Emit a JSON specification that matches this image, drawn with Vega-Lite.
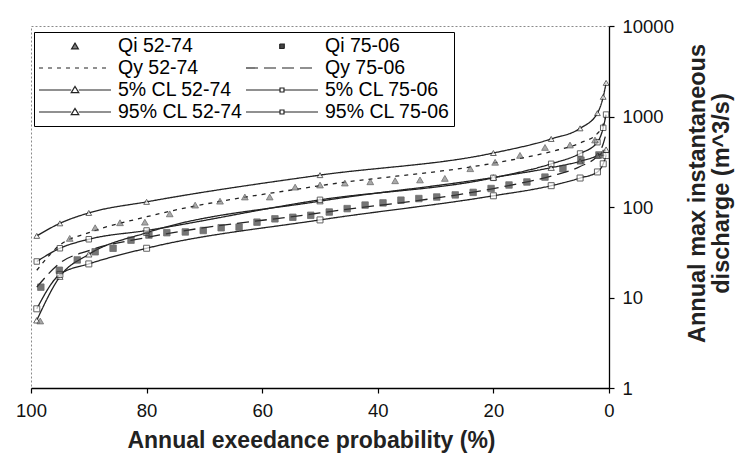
{
  "$schema": "https://vega.github.io/schema/vega-lite/v6.json",
  "width": 578,
  "height": 362,
  "autosize": {"type": "none"},
  "padding": {"left": 31, "top": 26, "right": 127, "bottom": 75},
  "background": "white",
  "config": {
    "font": "Liberation Sans",
    "view": {"stroke": "#8a8a8a", "strokeDash": [2, 2], "strokeWidth": 1}
  },
  "datasets": {
    "curves": [
      {"series": "95% CL 52-74", "p": 99, "q": 48}, {"series": "95% CL 52-74", "p": 95, "q": 66}, {"series": "95% CL 52-74", "p": 90, "q": 86}, {"series": "95% CL 52-74", "p": 80, "q": 114}, {"series": "95% CL 52-74", "p": 50, "q": 225}, {"series": "95% CL 52-74", "p": 20, "q": 395}, {"series": "95% CL 52-74", "p": 10, "q": 565}, {"series": "95% CL 52-74", "p": 5, "q": 740}, {"series": "95% CL 52-74", "p": 2, "q": 1090}, {"series": "95% CL 52-74", "p": 1, "q": 1650}, {"series": "95% CL 52-74", "p": 0.5, "q": 2350},
      {"series": "5% CL 52-74", "p": 99, "q": 5.6}, {"series": "5% CL 52-74", "p": 95, "q": 17}, {"series": "5% CL 52-74", "p": 90, "q": 30}, {"series": "5% CL 52-74", "p": 80, "q": 52}, {"series": "5% CL 52-74", "p": 50, "q": 116}, {"series": "5% CL 52-74", "p": 20, "q": 212}, {"series": "5% CL 52-74", "p": 10, "q": 272}, {"series": "5% CL 52-74", "p": 5, "q": 320}, {"series": "5% CL 52-74", "p": 2, "q": 370}, {"series": "5% CL 52-74", "p": 1, "q": 400}, {"series": "5% CL 52-74", "p": 0.5, "q": 430},
      {"series": "95% CL 75-06", "p": 99, "q": 25}, {"series": "95% CL 75-06", "p": 95, "q": 35}, {"series": "95% CL 75-06", "p": 90, "q": 44}, {"series": "95% CL 75-06", "p": 80, "q": 55}, {"series": "95% CL 75-06", "p": 50, "q": 120}, {"series": "95% CL 75-06", "p": 20, "q": 210}, {"series": "95% CL 75-06", "p": 10, "q": 300}, {"series": "95% CL 75-06", "p": 5, "q": 390}, {"series": "95% CL 75-06", "p": 2, "q": 520}, {"series": "95% CL 75-06", "p": 1, "q": 750}, {"series": "95% CL 75-06", "p": 0.5, "q": 1050},
      {"series": "5% CL 75-06", "p": 99, "q": 7.5}, {"series": "5% CL 75-06", "p": 95, "q": 18}, {"series": "5% CL 75-06", "p": 90, "q": 23.5}, {"series": "5% CL 75-06", "p": 80, "q": 35}, {"series": "5% CL 75-06", "p": 50, "q": 72}, {"series": "5% CL 75-06", "p": 20, "q": 133}, {"series": "5% CL 75-06", "p": 10, "q": 172}, {"series": "5% CL 75-06", "p": 5, "q": 209}, {"series": "5% CL 75-06", "p": 2, "q": 244}, {"series": "5% CL 75-06", "p": 1, "q": 300}, {"series": "5% CL 75-06", "p": 0.5, "q": 370},
      {"series": "Qy 52-74", "p": 99, "q": 20}, {"series": "Qy 52-74", "p": 95, "q": 38}, {"series": "Qy 52-74", "p": 90, "q": 52}, {"series": "Qy 52-74", "p": 80, "q": 78}, {"series": "Qy 52-74", "p": 50, "q": 172}, {"series": "Qy 52-74", "p": 20, "q": 305}, {"series": "Qy 52-74", "p": 10, "q": 410}, {"series": "Qy 52-74", "p": 5, "q": 510}, {"series": "Qy 52-74", "p": 2, "q": 650}, {"series": "Qy 52-74", "p": 1, "q": 820}, {"series": "Qy 52-74", "p": 0.5, "q": 1080},
      {"series": "Qy 75-06", "p": 99, "q": 13}, {"series": "Qy 75-06", "p": 95, "q": 24}, {"series": "Qy 75-06", "p": 90, "q": 33}, {"series": "Qy 75-06", "p": 80, "q": 46}, {"series": "Qy 75-06", "p": 50, "q": 86}, {"series": "Qy 75-06", "p": 20, "q": 160}, {"series": "Qy 75-06", "p": 10, "q": 220}, {"series": "Qy 75-06", "p": 5, "q": 280}, {"series": "Qy 75-06", "p": 2, "q": 370}, {"series": "Qy 75-06", "p": 1, "q": 500}, {"series": "Qy 75-06", "p": 0.5, "q": 650}
    ],
    "obs": [
      {"series": "Qi 52-74", "p": 98.4, "q": 5.5}, {"series": "Qi 52-74", "p": 93.3, "q": 45}, {"series": "Qi 52-74", "p": 88.9, "q": 59}, {"series": "Qi 52-74", "p": 84.6, "q": 67}, {"series": "Qi 52-74", "p": 80.3, "q": 68}, {"series": "Qi 52-74", "p": 76.0, "q": 84}, {"series": "Qi 52-74", "p": 71.6, "q": 105}, {"series": "Qi 52-74", "p": 67.3, "q": 116}, {"series": "Qi 52-74", "p": 63.0, "q": 129}, {"series": "Qi 52-74", "p": 58.7, "q": 129}, {"series": "Qi 52-74", "p": 54.3, "q": 166}, {"series": "Qi 52-74", "p": 50.0, "q": 175}, {"series": "Qi 52-74", "p": 45.7, "q": 184}, {"series": "Qi 52-74", "p": 41.3, "q": 190}, {"series": "Qi 52-74", "p": 37.0, "q": 195}, {"series": "Qi 52-74", "p": 32.7, "q": 199}, {"series": "Qi 52-74", "p": 28.4, "q": 207}, {"series": "Qi 52-74", "p": 24.0, "q": 265}, {"series": "Qi 52-74", "p": 19.7, "q": 312}, {"series": "Qi 52-74", "p": 15.4, "q": 372}, {"series": "Qi 52-74", "p": 11.07, "q": 455}, {"series": "Qi 52-74", "p": 6.75, "q": 484}, {"series": "Qi 52-74", "p": 2.42, "q": 550},
      {"series": "Qi 75-06", "p": 98.3, "q": 13}, {"series": "Qi 75-06", "p": 95.1, "q": 20}, {"series": "Qi 75-06", "p": 92.0, "q": 26}, {"series": "Qi 75-06", "p": 88.9, "q": 32}, {"series": "Qi 75-06", "p": 85.8, "q": 35}, {"series": "Qi 75-06", "p": 82.7, "q": 43}, {"series": "Qi 75-06", "p": 79.6, "q": 49}, {"series": "Qi 75-06", "p": 76.5, "q": 52}, {"series": "Qi 75-06", "p": 73.3, "q": 53}, {"series": "Qi 75-06", "p": 70.2, "q": 55}, {"series": "Qi 75-06", "p": 67.1, "q": 59}, {"series": "Qi 75-06", "p": 64.0, "q": 60}, {"series": "Qi 75-06", "p": 60.9, "q": 68}, {"series": "Qi 75-06", "p": 57.8, "q": 74}, {"series": "Qi 75-06", "p": 54.7, "q": 77}, {"series": "Qi 75-06", "p": 51.6, "q": 81}, {"series": "Qi 75-06", "p": 48.4, "q": 88}, {"series": "Qi 75-06", "p": 45.3, "q": 96}, {"series": "Qi 75-06", "p": 42.2, "q": 105}, {"series": "Qi 75-06", "p": 39.1, "q": 111}, {"series": "Qi 75-06", "p": 36.0, "q": 119}, {"series": "Qi 75-06", "p": 32.9, "q": 124}, {"series": "Qi 75-06", "p": 29.8, "q": 129}, {"series": "Qi 75-06", "p": 26.6, "q": 136}, {"series": "Qi 75-06", "p": 23.5, "q": 145}, {"series": "Qi 75-06", "p": 20.4, "q": 160}, {"series": "Qi 75-06", "p": 17.3, "q": 175}, {"series": "Qi 75-06", "p": 14.2, "q": 189}, {"series": "Qi 75-06", "p": 11.08, "q": 214}, {"series": "Qi 75-06", "p": 7.97, "q": 265}, {"series": "Qi 75-06", "p": 4.86, "q": 330}, {"series": "Qi 75-06", "p": 1.74, "q": 376}
    ]
  },
  "encoding": {
    "x": {
      "field": "p", "type": "quantitative",
      "scale": {"domain": [0, 100], "reverse": true, "nice": false, "zero": false},
      "axis": {
        "values": [0, 20, 40, 60, 80, 100], "grid": false, "labelFlush": false, "labelOverlap": false,
        "domainColor": "black", "domainWidth": 1.3, "tickColor": "black", "tickSize": 5, "tickWidth": 1.2,
        "labelFontSize": 18.5, "labelColor": "#111", "labelPadding": 8,
        "title": "Annual exeedance probability (%)", "titleFontSize": 23, "titleFontWeight": "bold", "titleColor": "#222",
        "titleX": 280, "titleY": 52, "titleBaseline": "middle", "titleAlign": "center"
      }
    },
    "y": {
      "field": "q", "type": "quantitative",
      "scale": {"type": "log", "domain": [1, 10000], "nice": false},
      "axis": {
        "orient": "right", "values": [1, 10, 100, 1000, 10000], "format": "d", "grid": false, "labelFlush": false, "labelOverlap": false,
        "domainColor": "black", "domainWidth": 1.3, "tickColor": "black", "tickSize": 5, "tickWidth": 1.2,
        "labelFontSize": 18.5, "labelColor": "#111", "labelPadding": 8,
        "title": ["Annual max instantaneous", "discharge (m^3/s)"], "titleFontSize": 23.5, "titleFontWeight": "bold", "titleColor": "#222",
        "titleAngle": 270, "titleX": 88, "titleY": 167, "titleBaseline": "middle", "titleAlign": "center", "titleLineHeight": 24
      }
    }
  },
  "layer": [
    {
      "data": {"name": "curves"},
      "mark": {"type": "line", "interpolate": "monotone", "strokeWidth": 1.3},
      "encoding": {
        "stroke": {
          "field": "series", "type": "nominal",
          "scale": {
            "domain": ["Qi 52-74", "Qy 52-74", "5% CL 52-74", "95% CL 52-74", "Qi 75-06", "Qy 75-06", "5% CL 75-06", "95% CL 75-06"],
            "range": ["#222", "#222", "#222", "#222", "#222", "#222", "#222", "#222"]
          },
          "legend": {
            "title": null, "orient": "none", "legendX": 3, "legendY": 6, "columns": 2,
            "columnPadding": 0, "rowPadding": 2, "padding": 4,
            "strokeColor": "black", "fillColor": "white",
            "labelFont": "Liberation Sans", "labelFontSize": 19.5, "labelColor": "black", "labelLimit": 300, "labelOffset": 60,
            "symbolSize": 324, "symbolStrokeWidth": 1.2,
            "encode": {
              "symbols": {
                "update": {
                  "shape": {"signal": "datum.value === 'Qi 52-74' ? 'M2.62,0.3L3,-0.35L3.38,0.3Z' : datum.value === 'Qi 75-06' ? 'M2.75,-0.25H3.25V0.25H2.75Z' : indexof(datum.value, 'Qy') === 0 ? 'M-1,0H7' : indexof(datum.value, '52-74') > 0 ? 'M-1,0H2.58M3.42,0H7M2.58,0.3L3,-0.4L3.42,0.3Z' : 'M-1,0H2.78M3.22,0H7M2.78,-0.22H3.22V0.22H2.78Z'"},
                  "fill": {"signal": "datum.value === 'Qi 52-74' ? '#808080' : datum.value === 'Qi 75-06' ? '#444' : 'white'"},
                  "stroke": {"signal": "indexof(datum.value, 'Qi') === 0 ? '#444' : '#222'"},
                  "strokeDash": {"signal": "datum.value === 'Qy 52-74' ? [4, 5] : datum.value === 'Qy 75-06' ? [12, 6] : [1, 0]"}
                }
              }
            }
          }
        },
        "strokeDash": {
          "field": "series", "type": "nominal",
          "scale": {
            "domain": ["Qy 52-74", "Qy 75-06", "5% CL 52-74", "5% CL 75-06", "95% CL 52-74", "95% CL 75-06"],
            "range": [[4, 5], [12, 6], [1, 0], [1, 0], [1, 0], [1, 0]]
          },
          "legend": null
        }
      }
    },
    {
      "data": {"name": "curves"},
      "transform": [{"filter": "indexof(datum.series, 'CL') >= 0"}],
      "mark": {"type": "point", "filled": true, "fill": "white", "stroke": "#222", "strokeWidth": 1},
      "encoding": {
        "shape": {"field": "series", "type": "nominal", "scale": {"domain": ["Qi 52-74", "Qi 75-06", "5% CL 52-74", "5% CL 75-06", "95% CL 52-74", "95% CL 75-06"], "range": ["triangle-up", "square", "triangle-up", "square", "triangle-up", "square"]}, "legend": null},
        "size": {"field": "series", "type": "nominal", "scale": {"domain": ["Qi 52-74", "Qi 75-06", "5% CL 52-74", "5% CL 75-06", "95% CL 52-74", "95% CL 75-06"], "range": [45, 30, 70, 25, 70, 25]}, "legend": null}
      }
    },
    {
      "data": {"name": "obs"},
      "mark": {"type": "point", "filled": true, "stroke": "#333", "strokeWidth": 0.8},
      "encoding": {
        "shape": {"field": "series", "type": "nominal", "legend": null},
        "size": {"field": "series", "type": "nominal", "legend": null},
        "fill": {"field": "series", "type": "nominal", "scale": {"domain": ["Qi 52-74", "Qi 75-06"], "range": ["#858585", "#3c3c3c"]}, "legend": null}
      }
    }
  ]
}
